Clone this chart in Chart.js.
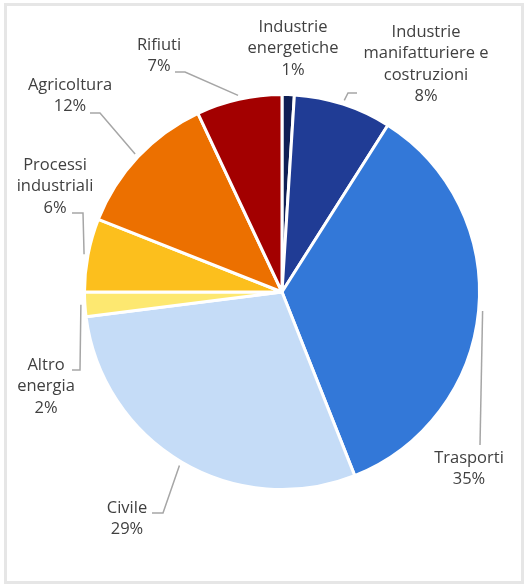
<!DOCTYPE html>
<html>
<head>
<meta charset="utf-8">
<script src="https://cdn.jsdelivr.net/npm/chart.js@4"></script>
<style>
  html, body { margin: 0; padding: 0; background: #fff; }
  canvas { display: block; }
</style>
</head>
<body>
<canvas id="grafico" width="525" height="585"></canvas>
<script>
// dati
const categorie = [
    "Industrie\nenergetiche",
    "Industrie\nmanifatturiere e\ncostruzioni",
    "Trasporti",
    "Civile",
    "Altro\nenergia",
    "Processi\nindustriali",
    "Agricoltura",
    "Rifiuti"
];
const valori = [1, 8, 35, 29, 2, 6, 12, 7];
const colori = ["#0f1f55", "#203c95", "#3378d8", "#c5dcf7", "#fde870", "#fcbf1d", "#ec7000", "#a30000"];

// posizione etichette rispetto al centro della torta (testo, gomito, fine linea)
const posEtichette = [
    { tx: 11, ty: -265, linea: null },
    { tx: 144, ty: -260, linea: [[75, -199], [66, -199]] },
    { tx: 187, ty: 166, linea: [[198, 153], [198, 153]] },
    { tx: -155, ty: 216, linea: [[-130, 221], [-119, 221]] },
    { tx: -236, ty: 73, linea: [[-210, 78], [-202, 78]] },
    { tx: -227, ty: -127, linea: [[-210, -79], [-199, -79]] },
    { tx: -212, ty: -207, linea: [[-192, -179], [-182, -179]] },
    { tx: -123, ty: -247, linea: [[-107, -220], [-97, -220]] }
];

const totale = valori.reduce((a, b) => a + b, 0);

const cornice = {
    id: "cornice",
    beforeDraw(chart) {
        const ctx = chart.ctx;
        ctx.save();
        ctx.strokeStyle = "#e6e6e6";
        ctx.lineWidth = 3;
        ctx.strokeRect(5.5, 4.5, 517, 578);
        ctx.restore();
    }
};

const etichette = {
    id: "etichette",
    afterDraw(chart) {
        const ctx = chart.ctx;
        const archi = chart.getDatasetMeta(0).data;
        ctx.save();
        archi.forEach((arco, i) => {
            const p = arco.getProps(["x", "y", "startAngle", "endAngle", "outerRadius"], true);
            const pos = posEtichette[i];
            const medio = (p.startAngle + p.endAngle) / 2;
            const r = p.outerRadius + 4;
            const ax = p.x + Math.cos(medio) * r;
            const ay = p.y + Math.sin(medio) * r;
            if (pos.linea) {
                ctx.strokeStyle = "#a6a6a6";
                ctx.lineWidth = 1.5;
                ctx.beginPath();
                ctx.moveTo(p.x + pos.linea[0][0], p.y + pos.linea[0][1]);
                ctx.lineTo(p.x + pos.linea[1][0], p.y + pos.linea[1][1]);
                ctx.lineTo(ax, ay);
                ctx.stroke();
            }
            const righe = categorie[i].split("\n");
            righe.push(Math.round(valori[i] / totale * 100) + "%");
            ctx.fillStyle = "#404040";
            ctx.font = "16.5px 'Open Sans'";
            ctx.textAlign = "center";
            ctx.textBaseline = "middle";
            righe.forEach((t, k) => {
                ctx.fillText(t, p.x + pos.tx, p.y + pos.ty + k * 21.5);
            });
        });
        ctx.restore();
    }
};

new Chart(document.getElementById("grafico").getContext("2d"), {
    type: "pie",
    data: {
        labels: categorie,
        datasets: [{
            data: valori,
            backgroundColor: colori,
            borderColor: "#ffffff",
            borderWidth: 3
        }]
    },
    options: {
        responsive: false,
        animation: false,
        layout: { padding: { left: 83, right: 44, top: 93, bottom: 94 } },
        plugins: {
            legend: { display: false },
            tooltip: { enabled: false }
        }
    },
    plugins: [cornice, etichette]
});
</script>
</body>
</html>
